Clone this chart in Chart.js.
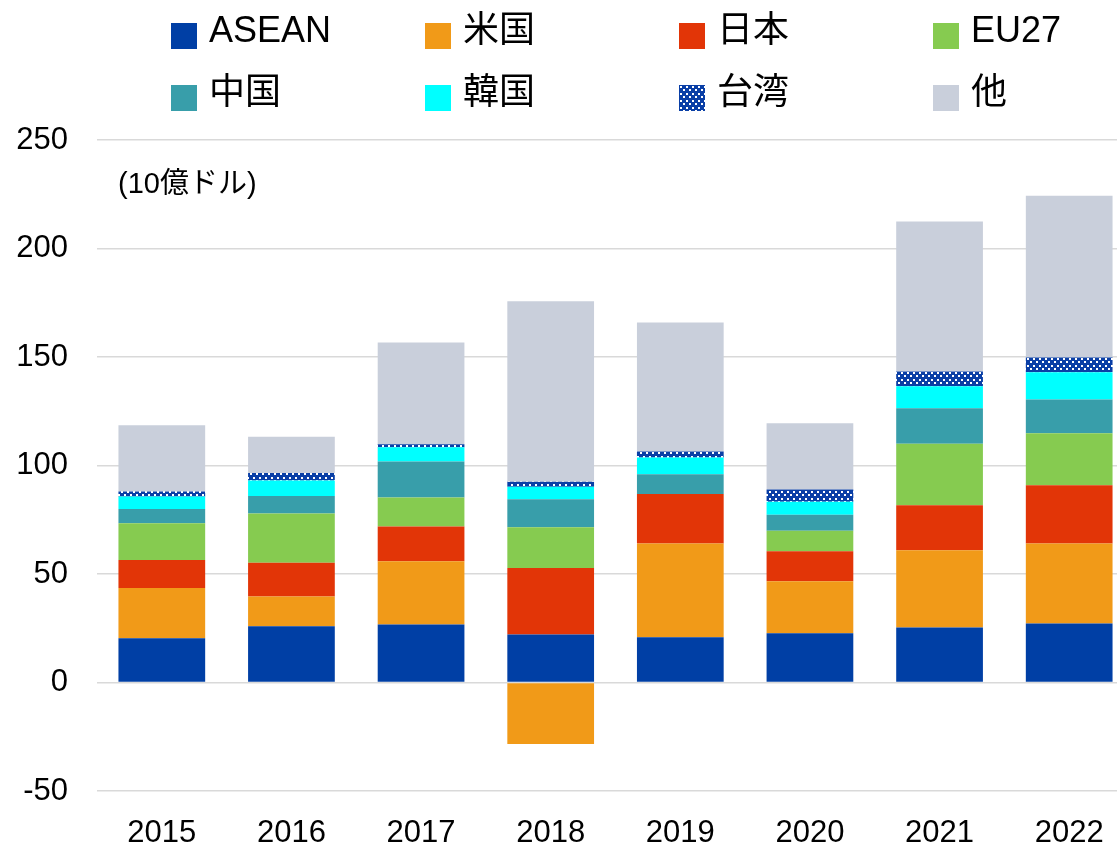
<!DOCTYPE html>
<html>
<head>
<meta charset="utf-8">
<script src="https://cdn.jsdelivr.net/npm/chart.js@4"></script>
<style>
  html, body { margin: 0; padding: 0; background: #fff; overflow: hidden; width: 1117px; height: 842px; }
  #wrap { position: absolute; left: 0; top: 0; width: 1134px; height: 842px; }
  .ff { font-family: "Liberation Sans", "Noto Sans CJK JP", sans-serif; color: #000; }
  .sw { position: absolute; width: 26px; height: 26px; }
  .lt { position: absolute; font-size: 36px; line-height: 36px; white-space: nowrap; }
  #unit { position: absolute; left: 118px; top: 168px; font-size: 29px; line-height: 30px; white-space: nowrap; }
</style>
</head>
<body>
<div id="wrap"><canvas id="c"></canvas></div>
<div id="legend" class="ff"></div>
<div id="unit" class="ff">(10億ドル)</div>
<script>
// ---- data ----
const years = ['2015', '2016', '2017', '2018', '2019', '2020', '2021', '2022'];
const seriesNames = ['ASEAN', '米国', '日本', 'EU27', '中国', '韓国', '台湾', '他'];
const asean  = [20.4, 25.9, 26.7, 22.1, 20.9, 22.7, 25.3, 27.2];
const us     = [23.1, 13.7, 29.2, -28.3, 43.2, 24.0, 35.7, 36.9];
const japan  = [12.9, 15.6, 16.0, 30.7, 22.8, 13.8, 20.7, 26.8];
const eu27   = [17.0, 22.7, 13.4, 18.8, 0.0, 9.4, 28.3, 24.0];
const china  = [6.5, 8.1, 16.5, 12.9, 9.1, 7.4, 16.4, 15.5];
const korea  = [5.8, 7.1, 6.6, 5.7, 7.7, 6.0, 10.1, 12.6];
const taiwan = [2.3, 3.5, 1.4, 2.3, 2.8, 5.6, 6.8, 6.8];
const other  = [30.6, 16.6, 46.9, 83.2, 59.4, 30.6, 69.1, 74.5];
const yTicks = [-50, 0, 50, 100, 150, 200, 250];

// ---- pattern for 台湾 ----
const tile = document.createElement('canvas');
tile.width = 6; tile.height = 7;
const tctx = tile.getContext('2d');
tctx.fillStyle = '#0a3fa6';
tctx.fillRect(0, 0, 6, 7);
tctx.fillStyle = '#ffffff';
tctx.fillRect(1, 1, 2, 2);
tctx.fillRect(4, 4, 2, 2);
const pattern = document.getElementById('c').getContext('2d').createPattern(tile, 'repeat');

const colors = ['#003fa5', '#f19a18', '#e23507', '#86cb50', '#389eaa', '#00ffff', pattern, '#c9cfdb'];
const values = [asean, us, japan, eu27, china, korea, taiwan, other];

// ---- HTML legend ----
const legend = document.getElementById('legend');
seriesNames.forEach((name, i) => {
  const c = i % 4, r = Math.floor(i / 4);
  const bx = 171 + 254 * c, by = 23 + 62 * r;
  const sw = document.createElement('div');
  sw.className = 'sw';
  sw.style.left = bx + 'px';
  sw.style.top = by + 'px';
  if (i === 6) {
    sw.style.backgroundImage = 'url(' + tile.toDataURL() + ')';
  } else {
    sw.style.background = colors[i];
  }
  legend.appendChild(sw);
  const t = document.createElement('div');
  t.className = 'lt';
  t.style.left = (bx + 38) + 'px';
  t.style.top = (by - 11) + 'px';
  t.textContent = name;
  legend.appendChild(t);
});

const FONT = '"Liberation Sans", "Noto Sans CJK JP", sans-serif';

new Chart(document.getElementById('c'), {
  type: 'bar',
  data: {
    labels: years,
    datasets: seriesNames.map((n, i) => ({
      label: n,
      data: values[i],
      backgroundColor: colors[i],
      borderWidth: 0,
      barPercentage: 0.669,
      categoryPercentage: 1.0
    }))
  },
  options: {
    responsive: true,
    maintainAspectRatio: false,
    animation: false,
    devicePixelRatio: 1,
    layout: { padding: { top: 140, left: 0, right: 0, bottom: 0 } },
    plugins: { legend: { display: false }, tooltip: { enabled: false } },
    scales: {
      x: {
        stacked: true,
        grid: { display: false },
        border: { display: false },
        ticks: { color: '#000', font: { family: FONT, size: 31 }, padding: 16, maxRotation: 0 },
        afterFit: (s) => { s.height = 51; }
      },
      y: {
        stacked: true,
        min: -50,
        max: 250,
        afterBuildTicks: (s) => { s.ticks = yTicks.map(v => ({ value: v })); },
        grid: { color: '#d9d9d9', lineWidth: 1.5, drawTicks: false },
        border: { display: false },
        ticks: { color: '#000', font: { family: FONT, size: 31 }, padding: 29 },
        afterFit: (s) => { s.width = 97; }
      }
    }
  }
});
</script>
</body>
</html>
